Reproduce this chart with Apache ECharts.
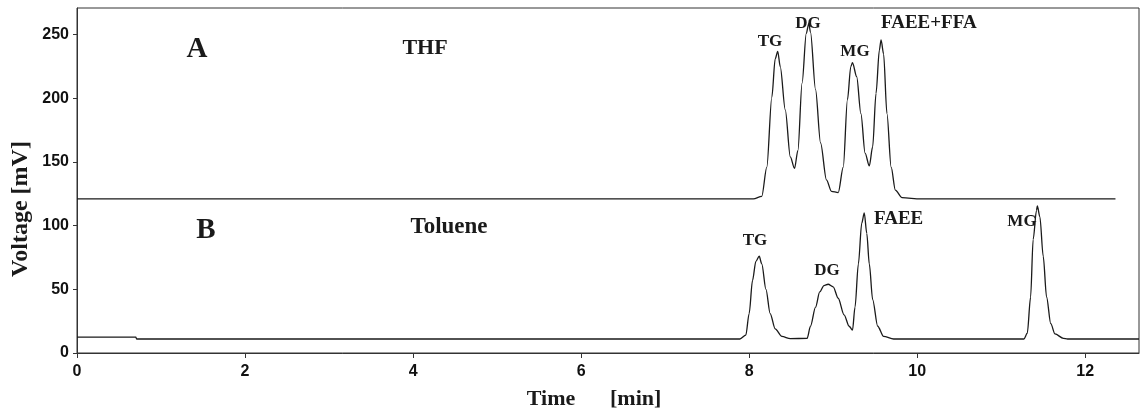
<!DOCTYPE html>
<html>
<head>
<meta charset="utf-8">
<title>Chromatogram THF / Toluene</title>
<script src="https://cdn.jsdelivr.net/npm/echarts@6/dist/echarts.min.js"></script>
<style>
    html, body { margin: 0; padding: 0; background: #fff; }
    #chart { width: 1142px; height: 412px; }
</style>
</head>
<body>
<div id="chart"></div>
<script>
// Trace A (THF): retention time [min] and detector voltage [mV]
const thfTime = [
    0, 7.95, 8.05, 8.15, 8.21, 8.27, 8.31, 8.34, 8.37, 8.43, 8.49, 8.54,
    8.58, 8.63, 8.68, 8.71, 8.73, 8.79, 8.85, 8.92, 8.98, 9.06, 9.12, 9.17,
    9.21, 9.23, 9.28, 9.33, 9.38, 9.43, 9.47, 9.51, 9.55, 9.57, 9.60, 9.64,
    9.69, 9.74, 9.82, 10.04, 12.36
];
const thfVoltage = [
    121, 121, 121, 123, 146, 201, 231, 237, 225, 191, 154, 145,
    159, 212, 251, 259, 252, 207, 165, 136, 127, 126, 146, 199,
    225, 228, 217, 188, 157, 147, 162, 204, 238, 246, 235, 188,
    146, 128, 122, 121, 121
];

// Trace B (Toluene)
const tolueneTime = [
    0, 0.70, 0.71, 7.89, 7.96, 8.00, 8.04, 8.08, 8.12, 8.15, 8.20, 8.25,
    8.31, 8.39, 8.49, 8.69, 8.73, 8.79, 8.84, 8.89, 8.94, 9.00, 9.06, 9.13,
    9.19, 9.23, 9.26, 9.30, 9.34, 9.37, 9.40, 9.43, 9.47, 9.53, 9.60, 9.72,
    11.27, 11.31, 11.35, 11.38, 11.42, 11.43, 11.46, 11.50, 11.54, 11.59,
    11.64, 11.74, 11.79, 12.64
];
const tolueneVoltage = [
    12.4, 12.4, 11, 11, 14, 31, 57, 72, 76, 70, 50, 31,
    19, 13, 11.3, 11.5, 21, 36, 48, 53, 54, 52, 43, 30,
    21, 18, 36, 70, 102, 110, 94, 70, 42, 21, 13, 11,
    11, 15.5, 44, 89, 112, 115.5, 107, 76, 44, 23,
    15, 11.5, 11, 11
];

const xTicks = [0, 2, 4, 6, 8, 10, 12];
const yTicks = [0, 50, 100, 150, 200, 250];
const thfPeaks = ["TG", "DG", "MG", "FAEE+FFA"];
const toluenePeaks = ["TG", "DG", "FAEE", "MG"];

const zip = (xs, ys) => xs.map((x, i) => [x, ys[i]]);

const serif = "'Liberation Serif', 'Times New Roman', serif";
const sans = "'Liberation Sans', Arial, sans-serif";
const ink = "#1a1a1a";

function txt(text, x, y, size, align = "center", rotation = 0) {
    return {
        type: "text",
        x,
        y,
        rotation,
        style: {
            text,
            fill: ink,
            font: `bold ${size}px ${serif}`,
            textAlign: align,
            textVerticalAlign: "middle",
        },
        z: 10,
    };
}

const chart = echarts.init(document.getElementById("chart"), null, {
    renderer: "canvas",
});

chart.setOption({
    animation: false,
    backgroundColor: "#fff",
    grid: {
        left: 77,
        right: 3,
        top: 8,
        bottom: 59,
        show: true,
        borderColor: "#333",
        borderWidth: 1,
    },
    xAxis: {
        type: "value",
        min: 0,
        max: 12.64,
        splitLine: { show: false },
        axisLine: { lineStyle: { color: "#333", width: 1 } },
        axisTick: {
            customValues: xTicks,
            length: 5,
            lineStyle: { color: "#333" },
        },
        axisLabel: {
            customValues: xTicks,
            margin: 11,
            color: "#111",
            fontFamily: sans,
            fontSize: 16,
            fontWeight: "bold",
        },
    },
    yAxis: {
        type: "value",
        min: 0,
        max: 271,
        splitLine: { show: false },
        axisLine: { show: true, lineStyle: { color: "#333", width: 1 } },
        axisTick: {
            show: true,
            customValues: yTicks,
            length: 4,
            lineStyle: { color: "#333" },
        },
        axisLabel: {
            customValues: yTicks,
            margin: 8,
            color: "#111",
            fontFamily: sans,
            fontSize: 16,
            fontWeight: "bold",
        },
    },
    graphic: [
        txt("Voltage [mV]", 21, 209, 24, "center", Math.PI / 2),
        txt("Time", 551, 399, 22),
        txt("[min]", 610, 399, 22, "left"),
        txt("A", 197, 50, 29),
        txt("THF", 425, 48, 22),
        txt("B", 206, 231, 29),
        txt("Toluene", 449, 227, 23),
        txt(thfPeaks[0], 770, 42, 17),
        txt(thfPeaks[1], 808, 24, 17),
        txt(thfPeaks[2], 855, 52, 17),
        txt(thfPeaks[3], 881, 23, 19, "left"),
        txt(toluenePeaks[0], 755, 241, 17),
        txt(toluenePeaks[1], 827, 271, 17),
        txt(toluenePeaks[2], 874, 219, 19, "left"),
        txt(toluenePeaks[3], 1022, 222, 17),
    ],
    series: [
        {
            name: "THF",
            type: "line",
            data: zip(thfTime, thfVoltage),
            showSymbol: false,
            smooth: 0.3,
            smoothMonotone: "x",
            lineStyle: { color: ink, width: 1.3 },
        },
        {
            name: "Toluene",
            type: "line",
            data: zip(tolueneTime, tolueneVoltage),
            showSymbol: false,
            smooth: 0.3,
            smoothMonotone: "x",
            lineStyle: { color: ink, width: 1.3 },
        },
    ],
});
</script>
</body>
</html>
